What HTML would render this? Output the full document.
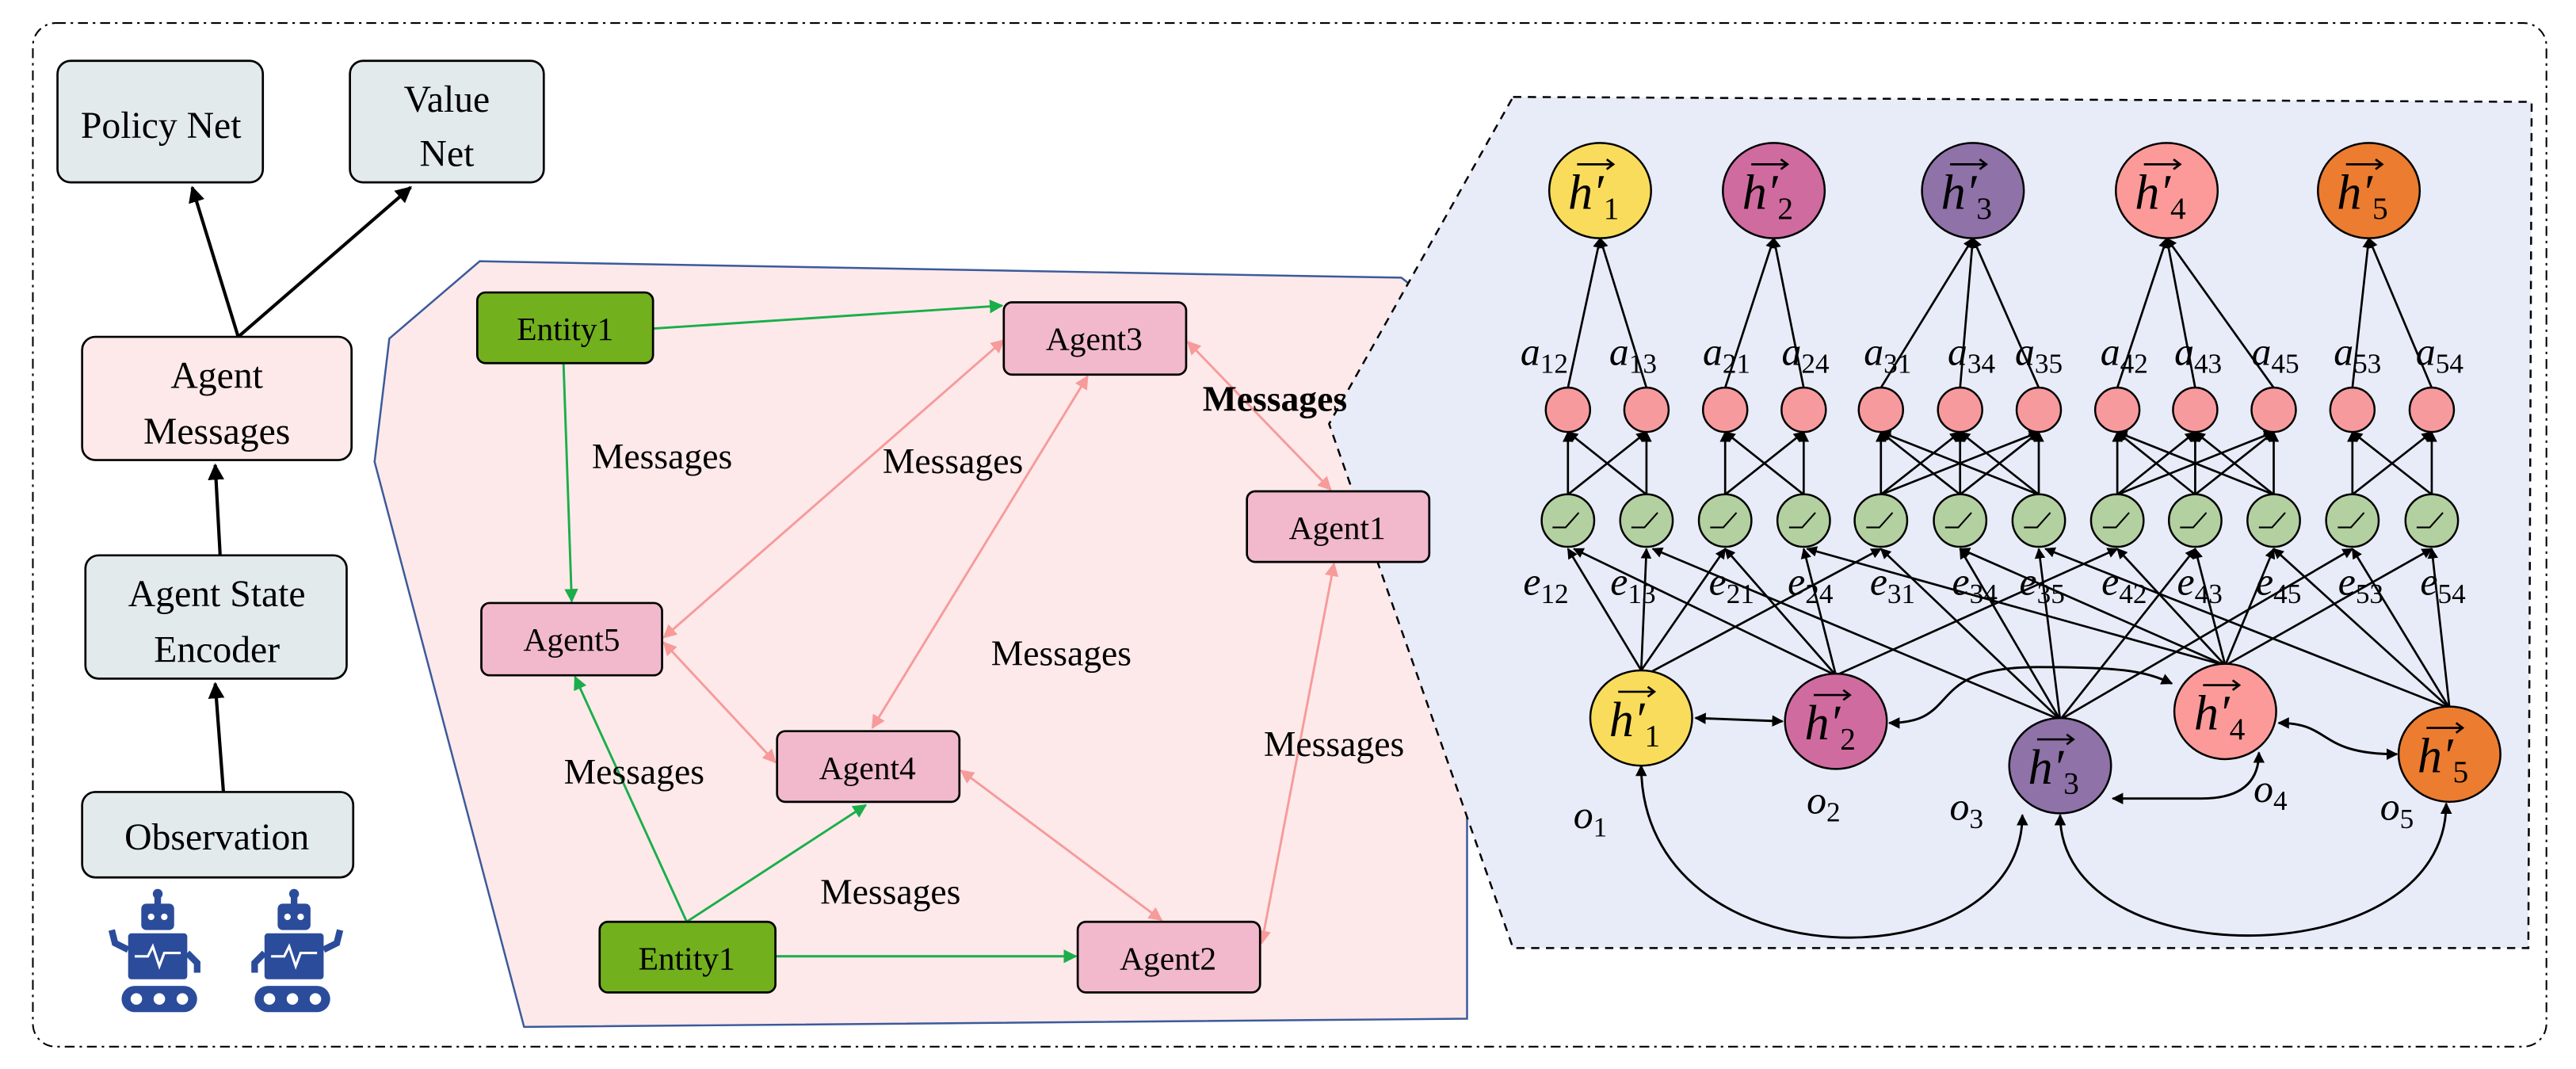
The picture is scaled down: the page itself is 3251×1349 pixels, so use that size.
<!DOCTYPE html>
<html><head><meta charset="utf-8"><style>html,body{margin:0;padding:0;background:#fff}svg{display:block}text{font-family:"Liberation Serif",serif}</style></head>
<body>
<svg width="3251" height="1349" viewBox="0 0 1568 650.6" preserveAspectRatio="none" xmlns="http://www.w3.org/2000/svg" style="font-family:'Liberation Serif',serif">
<defs>
<marker id="ak" viewBox="0 0 10 10" refX="9" refY="5" markerWidth="5" markerHeight="5" orient="auto-start-reverse"><path d="M0,0L10,5L0,10z" fill="#000"/></marker>
<marker id="ag" viewBox="0 0 10 10" refX="9" refY="5" markerWidth="6" markerHeight="6" orient="auto-start-reverse"><path d="M0,0L10,5L0,10z" fill="#1aae4a"/></marker>
<marker id="ap" viewBox="0 0 10 10" refX="9" refY="5" markerWidth="6" markerHeight="6" orient="auto-start-reverse"><path d="M0,0L10,5L0,10z" fill="#f79a9a"/></marker>
</defs>
<rect x="20" y="14" width="1530" height="623" rx="14" fill="none" stroke="#000" stroke-width="1" stroke-dasharray="6 3 1.5 3"/>

<g stroke="#000" stroke-width="1.3">
<rect x="35" y="37" width="125" height="74" rx="8" fill="#e3eaec"/>
<rect x="213" y="37" width="118" height="74" rx="8" fill="#e3eaec"/>
<rect x="52" y="338" width="159" height="75" rx="8" fill="#e3eaec"/>
<rect x="50" y="482" width="165" height="52" rx="8" fill="#e3eaec"/>
</g>
<g stroke="#000" stroke-width="2" marker-end="url(#ak)">
<line x1="145" y1="205" x2="117" y2="114"/>
<line x1="145" y1="205" x2="250" y2="114"/>
<line x1="134" y1="338" x2="131" y2="283"/>
<line x1="136" y1="482" x2="131" y2="416"/>
</g>

<polygon points="237,206 292,159 853,169 893,200 893,620 319,625 228,281" fill="#fde9ea" stroke="#3b5a9a" stroke-width="1.2"/>
<rect x="50" y="205" width="164" height="75" rx="8" fill="#fde9e9" stroke="#000" stroke-width="1.3"/>
<polygon points="921,59 1541,62 1539,577 921,577 809,258" fill="#e8ecf8" stroke="#000" stroke-width="1.2" stroke-dasharray="5 4"/>

<g font-size="23" text-anchor="middle" fill="#000">
<text x="98" y="84">Policy Net</text>
<text x="272" y="68">Value</text><text x="272" y="101">Net</text>
<text x="132" y="236">Agent</text><text x="132" y="270">Messages</text>
<text x="132" y="369">Agent State</text><text x="132" y="403">Encoder</text>
<text x="132" y="517">Observation</text>
</g>

<g fill="#2b4c9b">
<g transform="translate(66,540)">
<rect x="28" y="4" width="4" height="8"/><circle cx="30" cy="4" r="3"/>
<rect x="20" y="10" width="20" height="16" rx="3"/>
<rect x="12" y="28" width="36" height="28" rx="2"/>
<path d="M12,38 L4,34 L2,26" stroke="#2b4c9b" stroke-width="4" fill="none"/>
<path d="M48,40 L54,46 L54,52" stroke="#2b4c9b" stroke-width="4" fill="none"/>
<rect x="8" y="60" width="46" height="16" rx="8"/>
</g>
<g transform="translate(149,540)">
<rect x="28" y="4" width="4" height="8"/><circle cx="30" cy="4" r="3"/>
<rect x="20" y="10" width="20" height="16" rx="3"/>
<rect x="12" y="28" width="36" height="28" rx="2"/>
<path d="M48,38 L56,34 L58,26" stroke="#2b4c9b" stroke-width="4" fill="none"/>
<path d="M12,40 L6,46 L6,52" stroke="#2b4c9b" stroke-width="4" fill="none"/>
<rect x="6" y="60" width="46" height="16" rx="8"/>
</g>
</g>
<g fill="#fff">
<circle cx="92" cy="558" r="2"/><circle cx="100" cy="558" r="2"/>
<circle cx="175" cy="558" r="2"/><circle cx="183" cy="558" r="2"/>
<circle cx="83" cy="608" r="3.5"/><circle cx="97" cy="608" r="3.5"/><circle cx="111" cy="608" r="3.5"/>
<circle cx="164" cy="608" r="3.5"/><circle cx="178" cy="608" r="3.5"/><circle cx="192" cy="608" r="3.5"/>
<path d="M82,582 L90,582 L93,576 L97,588 L100,580 L110,580" stroke="#fff" stroke-width="1.5" fill="none"/>
<path d="M165,582 L173,582 L176,576 L180,588 L183,580 L193,580" stroke="#fff" stroke-width="1.5" fill="none"/>
</g>

<g stroke="#1aae4a" stroke-width="1.4" marker-end="url(#ag)">
<line x1="397" y1="200" x2="610" y2="186"/>
<line x1="343" y1="221" x2="348" y2="366"/>
<line x1="418" y1="561" x2="350" y2="412"/>
<line x1="418" y1="561" x2="527" y2="490"/>
<line x1="472" y1="582" x2="655" y2="582"/>
</g>
<g stroke="#f79a9a" stroke-width="1.4" marker-start="url(#ap)" marker-end="url(#ap)">
<line x1="611" y1="207" x2="404" y2="388"/>
<line x1="662" y1="229" x2="531" y2="443"/>
<line x1="723" y1="208" x2="810" y2="298"/>
<line x1="404" y1="391" x2="472" y2="464"/>
<line x1="585" y1="469" x2="707" y2="560"/>
<line x1="812" y1="343" x2="768" y2="574"/>
</g>
<g stroke="#000" stroke-width="1.3">
<rect x="290.5" y="178" width="107" height="43" rx="5" fill="#72b01e"/>
<rect x="365" y="561" width="107" height="43" rx="5" fill="#72b01e"/>
<rect x="611" y="184" width="111" height="44" rx="5" fill="#f1b9cb"/>
<rect x="759" y="299" width="111" height="43" rx="5" fill="#f1b9cb"/>
<rect x="293" y="367" width="110" height="44" rx="5" fill="#f1b9cb"/>
<rect x="473" y="445" width="111" height="43" rx="5" fill="#f1b9cb"/>
<rect x="656" y="561" width="111" height="43" rx="5" fill="#f1b9cb"/>
</g>
<g font-size="20" text-anchor="middle">
<text x="344" y="207">Entity1</text>
<text x="418" y="590">Entity1</text>
<text x="666" y="213">Agent3</text>
<text x="814" y="328">Agent1</text>
<text x="348" y="396">Agent5</text>
<text x="528" y="474">Agent4</text>
<text x="711" y="590">Agent2</text>
</g>
<g font-size="22" text-anchor="middle">
<text x="403" y="285">Messages</text>
<text x="580" y="288">Messages</text>
<text x="646" y="405">Messages</text>
<text x="386" y="477">Messages</text>
<text x="542" y="550">Messages</text>
<text x="812" y="460">Messages</text>
<text x="776" y="250" font-weight="bold">Messages</text>
</g>

<g stroke="#000" stroke-width="1.3" marker-end="url(#ak)">
<line x1="954.4" y1="236" x2="974" y2="145"/><line x1="1002.2" y1="236" x2="974" y2="145"/>
<line x1="1050.1" y1="236" x2="1079.7" y2="145"/><line x1="1097.9" y1="236" x2="1079.7" y2="145"/>
<line x1="1144.9" y1="236" x2="1200.9" y2="145"/><line x1="1193.1" y1="236" x2="1200.9" y2="145"/><line x1="1241" y1="236" x2="1200.9" y2="145"/>
<line x1="1288.8" y1="236" x2="1318.9" y2="145"/><line x1="1336.2" y1="236" x2="1318.9" y2="145"/><line x1="1384" y1="236" x2="1318.9" y2="145"/>
<line x1="1431.9" y1="236" x2="1441.9" y2="145"/><line x1="1480.2" y1="236" x2="1441.9" y2="145"/>
<line x1="954.4" y1="301" x2="954.4" y2="263"/><line x1="954.4" y1="301" x2="1002.2" y2="263"/>
<line x1="1002.2" y1="301" x2="954.4" y2="263"/><line x1="1002.2" y1="301" x2="1002.2" y2="263"/>
<line x1="1050.1" y1="301" x2="1050.1" y2="263"/><line x1="1050.1" y1="301" x2="1097.9" y2="263"/>
<line x1="1097.9" y1="301" x2="1050.1" y2="263"/><line x1="1097.9" y1="301" x2="1097.9" y2="263"/>
<line x1="1144.9" y1="301" x2="1144.9" y2="263"/><line x1="1144.9" y1="301" x2="1193.1" y2="263"/><line x1="1144.9" y1="301" x2="1241" y2="263"/>
<line x1="1193.1" y1="301" x2="1144.9" y2="263"/><line x1="1193.1" y1="301" x2="1193.1" y2="263"/><line x1="1193.1" y1="301" x2="1241" y2="263"/>
<line x1="1241" y1="301" x2="1144.9" y2="263"/><line x1="1241" y1="301" x2="1193.1" y2="263"/><line x1="1241" y1="301" x2="1241" y2="263"/>
<line x1="1288.8" y1="301" x2="1288.8" y2="263"/><line x1="1288.8" y1="301" x2="1336.2" y2="263"/><line x1="1288.8" y1="301" x2="1384" y2="263"/>
<line x1="1336.2" y1="301" x2="1288.8" y2="263"/><line x1="1336.2" y1="301" x2="1336.2" y2="263"/><line x1="1336.2" y1="301" x2="1384" y2="263"/>
<line x1="1384" y1="301" x2="1288.8" y2="263"/><line x1="1384" y1="301" x2="1336.2" y2="263"/><line x1="1384" y1="301" x2="1384" y2="263"/>
<line x1="1431.9" y1="301" x2="1431.9" y2="263"/><line x1="1431.9" y1="301" x2="1480.2" y2="263"/>
<line x1="1480.2" y1="301" x2="1431.9" y2="263"/><line x1="1480.2" y1="301" x2="1480.2" y2="263"/>
<line x1="999" y1="408" x2="954.4" y2="334"/><line x1="999" y1="408" x2="1002.2" y2="334"/><line x1="999" y1="408" x2="1050.1" y2="334"/><line x1="1003" y1="410" x2="1144.9" y2="334"/>
<line x1="1117.5" y1="411" x2="958" y2="334"/><line x1="1117.5" y1="411" x2="1050.1" y2="334"/><line x1="1117.5" y1="411" x2="1097.9" y2="334"/><line x1="1117.5" y1="411" x2="1288.8" y2="334"/>
<line x1="1254" y1="438" x2="1006" y2="334"/><line x1="1254" y1="438" x2="1144.9" y2="334"/><line x1="1254" y1="438" x2="1193.1" y2="334"/><line x1="1254" y1="438" x2="1241" y2="334"/><line x1="1254" y1="438" x2="1336.2" y2="334"/><line x1="1254" y1="438" x2="1431.9" y2="334"/>
<line x1="1354.5" y1="405" x2="1100" y2="334"/><line x1="1354.5" y1="405" x2="1193.1" y2="334"/><line x1="1354.5" y1="405" x2="1288.8" y2="334"/><line x1="1354.5" y1="405" x2="1336.2" y2="334"/><line x1="1354.5" y1="405" x2="1384" y2="334"/><line x1="1354.5" y1="405" x2="1480.2" y2="334"/>
<line x1="1491" y1="431" x2="1245" y2="334"/><line x1="1491" y1="431" x2="1384" y2="334"/><line x1="1491" y1="431" x2="1431.9" y2="334"/><line x1="1491" y1="431" x2="1480.2" y2="334"/>
</g>
<g stroke="#000" stroke-width="1.4" fill="none" marker-start="url(#ak)" marker-end="url(#ak)">
<line x1="1032" y1="437" x2="1085" y2="439"/>
<path d="M1150,440 C1195,440 1170,406 1240,406 C1290,406 1305,408 1322,416"/>
<path d="M1286,486 L1340,486 Q1375,486 1375,458"/>
<path d="M1387,440 C1420,440 1410,459 1459,459"/>
<path d="M999,466 C999,600 1231,600 1231,496"/>
<path d="M1254,496 C1254,595 1489,595 1489,489"/>
</g>

<g stroke="#000" stroke-width="1.2">
<g fill="#f79a9e">
<circle cx="954.4" cy="249.4" r="13.5"/><circle cx="1002.2" cy="249.4" r="13.5"/><circle cx="1050.1" cy="249.4" r="13.5"/><circle cx="1097.9" cy="249.4" r="13.5"/><circle cx="1144.9" cy="249.4" r="13.5"/><circle cx="1193.1" cy="249.4" r="13.5"/><circle cx="1241" cy="249.4" r="13.5"/><circle cx="1288.8" cy="249.4" r="13.5"/><circle cx="1336.2" cy="249.4" r="13.5"/><circle cx="1384" cy="249.4" r="13.5"/><circle cx="1431.9" cy="249.4" r="13.5"/><circle cx="1480.2" cy="249.4" r="13.5"/>
</g>
<g fill="#b3d0a0">
<circle cx="954.4" cy="316.8" r="16"/><circle cx="1002.2" cy="316.8" r="16"/><circle cx="1050.1" cy="316.8" r="16"/><circle cx="1097.9" cy="316.8" r="16"/><circle cx="1144.9" cy="316.8" r="16"/><circle cx="1193.1" cy="316.8" r="16"/><circle cx="1241" cy="316.8" r="16"/><circle cx="1288.8" cy="316.8" r="16"/><circle cx="1336.2" cy="316.8" r="16"/><circle cx="1384" cy="316.8" r="16"/><circle cx="1431.9" cy="316.8" r="16"/><circle cx="1480.2" cy="316.8" r="16"/>
</g>
<ellipse cx="974" cy="116" rx="31" ry="29" fill="#f9dc5c"/>
<ellipse cx="1079.7" cy="116" rx="31" ry="29" fill="#d06ba0"/>
<ellipse cx="1200.9" cy="116" rx="31" ry="29" fill="#8e72a8"/>
<ellipse cx="1318.9" cy="116" rx="31" ry="29" fill="#fc9a9a"/>
<ellipse cx="1441.9" cy="116" rx="31" ry="29" fill="#ec7c30"/>
<ellipse cx="999" cy="437" rx="31" ry="29" fill="#f9dc5c"/>
<ellipse cx="1117.5" cy="439" rx="31" ry="29" fill="#d06ba0"/>
<ellipse cx="1254" cy="466" rx="31" ry="29" fill="#8e72a8"/>
<ellipse cx="1354.5" cy="433" rx="31" ry="29" fill="#fc9a9a"/>
<ellipse cx="1491" cy="459" rx="31" ry="29" fill="#ec7c30"/>
</g>
<g stroke="#000" stroke-width="1" fill="none">
<path d="M945,321 h8 l8,-9"/><path d="M993,321 h8 l8,-9"/><path d="M1041,321 h8 l8,-9"/><path d="M1089,321 h8 l8,-9"/><path d="M1136,321 h8 l8,-9"/><path d="M1184,321 h8 l8,-9"/><path d="M1232,321 h8 l8,-9"/><path d="M1280,321 h8 l8,-9"/><path d="M1327,321 h8 l8,-9"/><path d="M1375,321 h8 l8,-9"/><path d="M1423,321 h8 l8,-9"/><path d="M1471,321 h8 l8,-9"/>
</g>
<g font-size="30" font-style="italic" text-anchor="middle" fill="#000">
<text x="970" y="127">h′<tspan font-size="19" font-style="normal" dy="6">1</tspan></text>
<text x="1076" y="127">h′<tspan font-size="19" font-style="normal" dy="6">2</tspan></text>
<text x="1197" y="127">h′<tspan font-size="19" font-style="normal" dy="6">3</tspan></text>
<text x="1315" y="127">h′<tspan font-size="19" font-style="normal" dy="6">4</tspan></text>
<text x="1438" y="127">h′<tspan font-size="19" font-style="normal" dy="6">5</tspan></text>
<text x="995" y="448">h′<tspan font-size="19" font-style="normal" dy="6">1</tspan></text>
<text x="1114" y="450">h′<tspan font-size="19" font-style="normal" dy="6">2</tspan></text>
<text x="1250" y="477">h′<tspan font-size="19" font-style="normal" dy="6">3</tspan></text>
<text x="1351" y="444">h′<tspan font-size="19" font-style="normal" dy="6">4</tspan></text>
<text x="1487" y="470">h′<tspan font-size="19" font-style="normal" dy="6">5</tspan></text>
</g>
<g stroke="#000" stroke-width="1.3" fill="none">
<path d="M960,100 h22 M978,97 l4,3 l-4,3"/><path d="M1066,100 h22 M1084,97 l4,3 l-4,3"/><path d="M1187,100 h22 M1205,97 l4,3 l-4,3"/><path d="M1305,100 h22 M1323,97 l4,3 l-4,3"/><path d="M1428,100 h22 M1446,97 l4,3 l-4,3"/>
<path d="M985,421 h22 M1003,418 l4,3 l-4,3"/><path d="M1104,423 h22 M1122,420 l4,3 l-4,3"/><path d="M1240,450 h22 M1258,447 l4,3 l-4,3"/><path d="M1341,417 h22 M1359,414 l4,3 l-4,3"/><path d="M1477,443 h22 M1495,440 l4,3 l-4,3"/>
</g>
<g font-size="24" font-style="italic" text-anchor="middle">
<text x="940" y="222">a<tspan font-size="17" font-style="normal" dy="5">12</tspan></text>
<text x="994" y="222">a<tspan font-size="17" font-style="normal" dy="5">13</tspan></text>
<text x="1051" y="222">a<tspan font-size="17" font-style="normal" dy="5">21</tspan></text>
<text x="1099" y="222">a<tspan font-size="17" font-style="normal" dy="5">24</tspan></text>
<text x="1149" y="222">a<tspan font-size="17" font-style="normal" dy="5">31</tspan></text>
<text x="1200" y="222">a<tspan font-size="17" font-style="normal" dy="5">34</tspan></text>
<text x="1241" y="222">a<tspan font-size="17" font-style="normal" dy="5">35</tspan></text>
<text x="1293" y="222">a<tspan font-size="17" font-style="normal" dy="5">42</tspan></text>
<text x="1338" y="222">a<tspan font-size="17" font-style="normal" dy="5">43</tspan></text>
<text x="1385" y="222">a<tspan font-size="17" font-style="normal" dy="5">45</tspan></text>
<text x="1435" y="222">a<tspan font-size="17" font-style="normal" dy="5">53</tspan></text>
<text x="1485" y="222">a<tspan font-size="17" font-style="normal" dy="5">54</tspan></text>
<text x="941" y="362">e<tspan font-size="17" font-style="normal" dy="5">12</tspan></text>
<text x="994" y="362">e<tspan font-size="17" font-style="normal" dy="5">13</tspan></text>
<text x="1054" y="362">e<tspan font-size="17" font-style="normal" dy="5">21</tspan></text>
<text x="1102" y="362">e<tspan font-size="17" font-style="normal" dy="5">24</tspan></text>
<text x="1152" y="362">e<tspan font-size="17" font-style="normal" dy="5">31</tspan></text>
<text x="1202" y="362">e<tspan font-size="17" font-style="normal" dy="5">34</tspan></text>
<text x="1243" y="362">e<tspan font-size="17" font-style="normal" dy="5">35</tspan></text>
<text x="1293" y="362">e<tspan font-size="17" font-style="normal" dy="5">42</tspan></text>
<text x="1339" y="362">e<tspan font-size="17" font-style="normal" dy="5">43</tspan></text>
<text x="1387" y="362">e<tspan font-size="17" font-style="normal" dy="5">45</tspan></text>
<text x="1437" y="362">e<tspan font-size="17" font-style="normal" dy="5">53</tspan></text>
<text x="1487" y="362">e<tspan font-size="17" font-style="normal" dy="5">54</tspan></text>
<text x="968" y="504">o<tspan font-size="17" font-style="normal" dy="5">1</tspan></text>
<text x="1110" y="495">o<tspan font-size="17" font-style="normal" dy="5">2</tspan></text>
<text x="1197" y="499">o<tspan font-size="17" font-style="normal" dy="5">3</tspan></text>
<text x="1382" y="488">o<tspan font-size="17" font-style="normal" dy="5">4</tspan></text>
<text x="1459" y="499">o<tspan font-size="17" font-style="normal" dy="5">5</tspan></text>
</g>
</svg>
</body></html>
